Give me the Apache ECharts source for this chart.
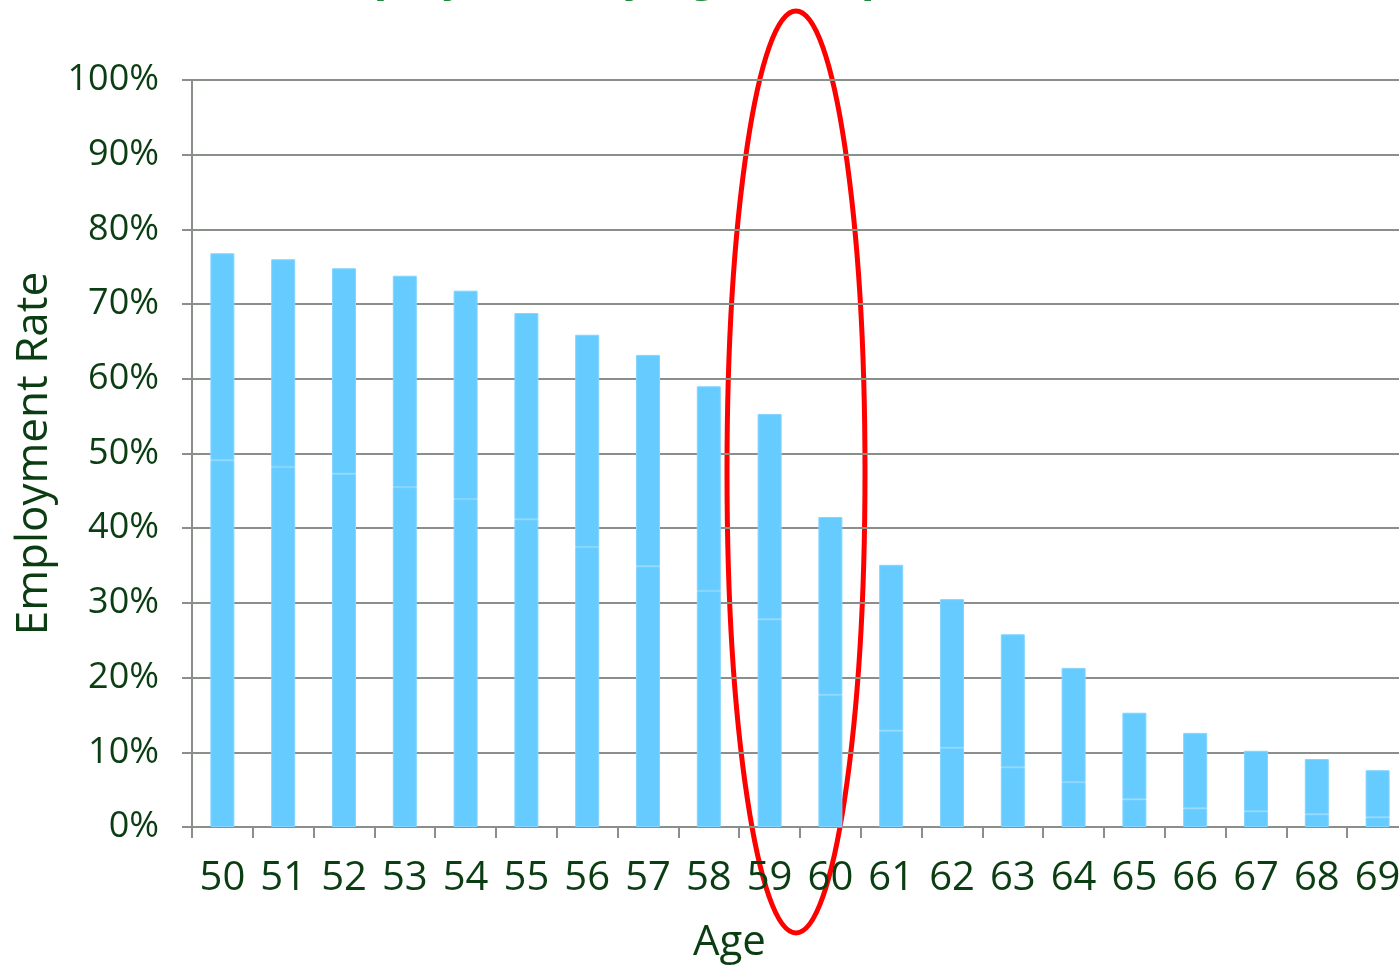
<!DOCTYPE html>
<html lang="en">
<head>
    <meta charset="UTF-8">
    <title>Employment rate by age</title>
    <script src="https://cdn.jsdelivr.net/npm/echarts@6/dist/echarts.min.js"></script>
    <style>
        html, body { margin: 0; padding: 0; background: #fff; }
        #main { width: 1399px; height: 967px; }
    </style>
</head>
<body>
<div id="main"></div>
<script type="text/javascript">
    // ages on the x axis
    var ages = ['50', '51', '52', '53', '54', '55', '56', '57', '58', '59',
                '60', '61', '62', '63', '64', '65', '66', '67', '68', '69'];
    // lower part of each bar (%)
    var lowerPart = [49.1, 48.2, 47.3, 45.5, 43.9, 41.2, 37.5, 34.9, 31.6, 27.8,
                     17.7, 12.9, 10.6, 8.0, 6.0, 3.7, 2.5, 2.1, 1.7, 1.3];
    // upper part of each bar (%), stacked on top
    var upperPart = [27.7, 27.8, 27.5, 28.3, 27.9, 27.6, 28.4, 28.3, 27.4, 27.5,
                     23.8, 22.2, 19.9, 17.8, 15.3, 11.6, 10.1, 8.1, 7.4, 6.3];

    var green = '#0b3d12';
    var gridGray = '#8a8f8a';
    var font = '"Open Sans", "Noto Sans", sans-serif';

    var myChart = echarts.init(document.getElementById('main'));

    var barStyle = {
        color: '#66ccff',
        borderColor: '#84d4ff',
        borderWidth: 1
    };

    var option = {
        backgroundColor: '#ffffff',
        animation: false,
        grid: {
            left: 192,
            top: 80,
            width: 1216,
            height: 747,
            outerBoundsMode: 'none'
        },
        xAxis: {
            type: 'category',
            data: ages,
            axisLine: { lineStyle: { color: gridGray, width: 2 } },
            axisTick: { show: true, interval: 0, length: 11, lineStyle: { color: gridGray, width: 2 } },
            axisLabel: {
                interval: 0,
                hideOverlap: false,
                color: green,
                fontSize: 40,
                fontFamily: font,
                margin: 32
            }
        },
        yAxis: {
            type: 'value',
            min: 0,
            max: 100,
            interval: 10,
            name: 'Employment Rate',
            nameLocation: 'middle',
            nameGap: 136,
            nameTextStyle: { color: green, fontSize: 44, fontFamily: font },
            axisLine: { show: true, lineStyle: { color: gridGray, width: 2 } },
            axisTick: { show: true, length: 10, lineStyle: { color: gridGray, width: 2 } },
            splitLine: { lineStyle: { color: gridGray, width: 2 } },
            axisLabel: {
                color: green,
                fontSize: 36,
                fontFamily: font,
                margin: 33,
                formatter: '{value}%'
            }
        },
        series: [
            {
                name: 'lower',
                type: 'bar',
                stack: 'rate',
                barWidth: 24,
                itemStyle: barStyle,
                data: lowerPart
            },
            {
                name: 'upper',
                type: 'bar',
                stack: 'rate',
                barWidth: 24,
                itemStyle: barStyle,
                data: upperPart
            }
        ],
        graphic: [
            {
                // title, cut off at the top edge of the picture
                type: 'text',
                left: 306,
                top: -45,
                style: {
                    text: 'Employment by Age Group',
                    font: 'bold 44px ' + font,
                    fill: '#1e8a3a'
                }
            },
            {
                type: 'text',
                left: 693,
                top: 922,
                style: {
                    text: 'Age',
                    font: '42px ' + font,
                    fill: green
                }
            },
            {
                // red highlight around ages 59-60
                type: 'ellipse',
                shape: { cx: 796, cy: 472, rx: 69, ry: 461 },
                style: { fill: null, stroke: '#ff0000', lineWidth: 5 }
            }
        ]
    };

    myChart.setOption(option);
</script>
</body>
</html>
